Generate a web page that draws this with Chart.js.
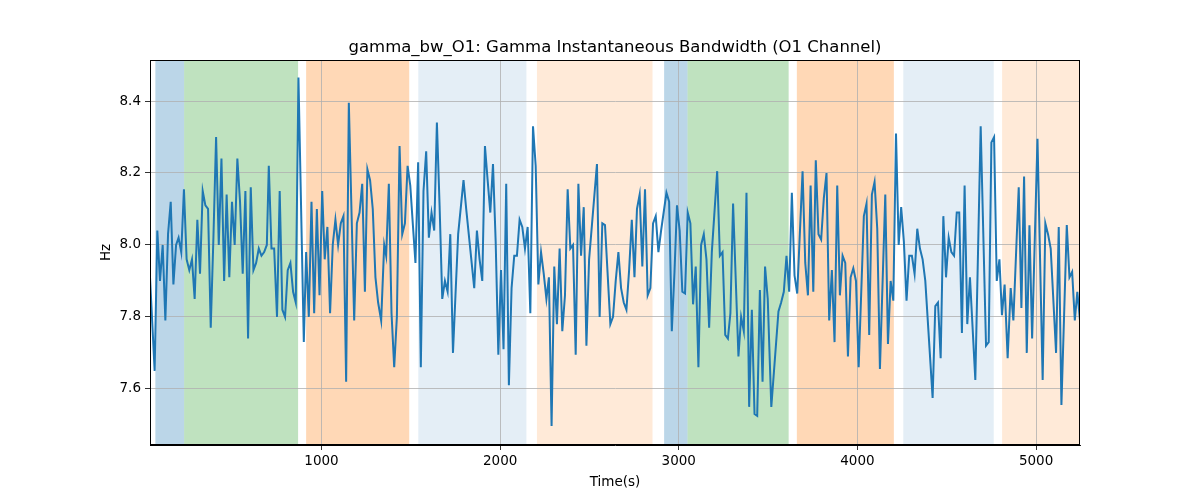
<!DOCTYPE html>
<html>
<head>
<meta charset="utf-8">
<script src="https://cdn.jsdelivr.net/npm/chart.js@4"></script>
<style>
  body { margin: 0; background: #fff; }
</style>
</head>
<body>
<canvas id="chart" width="1200" height="500"></canvas>
<script>
const times = [
  40, 66, 81, 96, 111, 126, 141, 156, 171, 186, 200, 215, 230, 245, 260, 275, 290, 305, 320, 335,
  350, 365, 380, 395, 410, 425, 440, 455, 469, 484, 499, 514, 529, 544, 559, 574, 589, 604, 619, 634,
  649, 664, 679, 694, 705, 720, 735, 751, 766, 781, 796, 811, 826, 841, 856, 871, 901, 914, 929, 944,
  959, 974, 989, 1004, 1018, 1033, 1048, 1063, 1078, 1093, 1108, 1123, 1138, 1153, 1183, 1198, 1213, 1228, 1243, 1257,
  1272, 1287, 1302, 1317, 1334, 1351, 1362, 1377, 1392, 1407, 1422, 1437, 1452, 1467, 1482, 1497, 1511, 1526, 1541, 1556,
  1571, 1586, 1601, 1616, 1631, 1646, 1661, 1676, 1691, 1706, 1721, 1736, 1750, 1765, 1795, 1810, 1855, 1870, 1885, 1900,
  1915, 1930, 1945, 1960, 1975, 1990, 2005, 2019, 2034, 2049, 2064, 2079, 2094, 2109, 2124, 2139, 2154, 2169, 2184, 2199,
  2214, 2229, 2244, 2259, 2273, 2288, 2303, 2318, 2333, 2348, 2363, 2378, 2393, 2408, 2423, 2438, 2453, 2468, 2483, 2498,
  2542, 2557, 2572, 2587, 2617, 2632, 2647, 2662, 2677, 2692, 2707, 2722, 2737, 2752, 2766, 2781, 2796, 2811, 2826, 2841,
  2856, 2871, 2886, 2901, 2931, 2946, 2961, 2976, 2990, 3005, 3020, 3035, 3050, 3065, 3080, 3095, 3110, 3125, 3140, 3155,
  3170, 3185, 3215, 3230, 3245, 3260, 3275, 3289, 3304, 3334, 3349, 3364, 3379, 3394, 3409, 3424, 3439, 3454, 3469, 3483,
  3498, 3518, 3558, 3573, 3588, 3603, 3618, 3633, 3648, 3663, 3693, 3708, 3723, 3738, 3753, 3767, 3782, 3797, 3812, 3827,
  3842, 3857, 3872, 3887, 3902, 3917, 3932, 3947, 3962, 3977, 3992, 4007, 4036, 4051, 4066, 4081, 4096, 4111, 4126, 4156,
  4171, 4186, 4201, 4216, 4231, 4245, 4260, 4275, 4290, 4305, 4320, 4335, 4350, 4365, 4380, 4421, 4436, 4451, 4466, 4481,
  4496, 4511, 4526, 4541, 4556, 4570, 4585, 4600, 4615, 4630, 4660, 4690, 4720, 4735, 4750, 4765, 4780, 4795, 4809, 4824,
  4841, 4858, 4873, 4903, 4918, 4933, 4948, 4963, 4978, 5008, 5037, 5052, 5067, 5082, 5112, 5127, 5142, 5172, 5187, 5202,
  5217, 5231, 5246
];
const hz = [
  7.91, 7.65, 8.04, 7.90, 8.00, 7.79, 8.03, 8.12, 7.89, 8.00, 8.02, 7.98, 8.155, 7.96, 7.93, 7.96, 7.85, 8.07, 7.92, 8.15,
  8.11, 8.10, 7.77, 8.02, 8.30, 8.00, 8.24, 7.90, 8.14, 7.91, 8.12, 8.00, 8.24, 8.12, 7.92, 8.15, 7.74, 8.16, 7.93, 7.95,
  7.99, 7.97, 7.98, 8.00, 8.22, 7.99, 7.99, 7.80, 8.15, 7.82, 7.80, 7.93, 7.95, 7.87, 7.84, 8.465, 7.73, 7.98, 7.80, 8.12,
  7.81, 8.10, 7.86, 8.15, 7.96, 8.05, 7.81, 8.00, 8.07, 8.00, 8.06, 8.08, 7.62, 8.395, 7.79, 8.06, 8.09, 8.17, 7.87, 8.21,
  8.18, 8.10, 7.91, 7.84, 7.79, 8.00, 7.97, 8.17, 7.81, 7.66, 7.80, 8.275, 8.03, 8.06, 8.22, 8.165, 8.06, 7.95, 8.23, 7.66,
  8.15, 8.26, 8.02, 8.09, 8.04, 8.34, 8.11, 7.85, 7.90, 7.87, 8.03, 7.70, 7.86, 8.03, 8.18, 8.10, 7.88, 8.04, 7.96, 7.90,
  8.275, 8.18, 8.09, 8.225, 8.01, 7.695, 7.93, 7.71, 8.17, 7.61, 7.88, 7.97, 7.97, 8.07, 8.05, 7.99, 8.05, 7.81, 8.33, 8.22,
  7.89, 7.98, 7.92, 7.85, 7.91, 7.497, 7.94, 7.78, 7.99, 7.76, 7.86, 8.155, 7.99, 8.00, 7.695, 8.17, 7.97, 8.105, 7.72, 7.96,
  8.225, 7.80, 8.06, 8.055, 7.78, 7.80, 7.90, 7.98, 7.88, 7.84, 7.82, 7.93, 8.07, 7.91, 8.10, 8.14, 7.94, 8.155, 7.86, 7.88,
  8.06, 8.08, 7.98, 8.04, 8.145, 8.12, 7.76, 7.925, 8.11, 8.04, 7.87, 7.865, 8.09, 8.06, 7.835, 7.94, 7.66, 8.00, 8.03, 7.96,
  7.77, 7.98, 8.205, 7.97, 7.98, 7.75, 7.74, 7.81, 8.115, 7.69, 7.80, 7.76, 8.145, 7.55, 7.82, 7.53, 7.525, 7.875, 7.62, 7.94,
  7.85, 7.55, 7.815, 7.84, 7.87, 7.97, 7.87, 8.145, 7.915, 7.865, 8.205, 7.95, 7.86, 8.165, 7.87, 8.235, 8.03, 8.015, 8.13, 8.20,
  7.79, 7.93, 7.73, 8.165, 7.86, 7.97, 7.95, 7.69, 7.91, 7.935, 7.90, 7.66, 8.08, 8.115, 7.75, 8.14, 8.175, 8.045, 7.655, 8.14,
  7.725, 7.90, 7.845, 8.31, 8.00, 8.105, 8.01, 7.845, 7.97, 7.97, 7.92, 8.045, 7.99, 7.96, 7.90, 7.575, 7.83, 7.84, 7.685, 8.08,
  7.91, 8.02, 7.98, 7.97, 8.09, 8.09, 7.755, 8.165, 7.78, 7.91, 7.625, 8.33, 7.72, 7.73, 8.285, 8.30, 7.90, 7.96, 7.805, 7.89,
  7.685, 7.88, 7.79, 8.16, 7.825, 8.19, 7.70, 8.055, 7.74, 8.295, 7.625, 8.06, 8.03, 7.99, 7.70, 8.05, 7.555, 8.055, 7.91, 7.925,
  7.79, 7.87, 7.79
];

// shaded stages
const spanStarts = [70, 231, 914, 1542, 2206, 2918, 3049, 3661, 4257, 4810];
const spanEnds = [231, 869, 1491, 2147, 2853, 3049, 3615, 4204, 4763, 5246];
const spanKinds = ["blue", "green", "orange", "paleBlue", "paleOrange", "blue", "green", "orange", "paleBlue", "paleOrange"];

const xTicks = [1000, 2000, 3000, 4000, 5000];
const yTicks = [7.6, 7.8, 8.0, 8.2, 8.4];

const spanColors = {
  blue: "rgba(31,119,180,0.3)",
  green: "rgba(44,160,44,0.3)",
  orange: "rgba(255,127,14,0.3)",
  paleBlue: "rgba(31,119,180,0.12)",
  paleOrange: "rgba(255,127,14,0.16)",
};

const FONT = "'DejaVu Sans', sans-serif";

const spansPlugin = {
  id: "spans",
  beforeDraw(chart) {
    const { ctx, chartArea, scales } = chart;
    ctx.save();
    for (let i = 0; i < spanStarts.length; i++) {
      const x0 = scales.x.getPixelForValue(spanStarts[i]);
      const x1 = scales.x.getPixelForValue(spanEnds[i]);
      ctx.fillStyle = spanColors[spanKinds[i]];
      ctx.fillRect(x0, chartArea.top, x1 - x0, chartArea.bottom - chartArea.top);
    }
    ctx.restore();
  },
  afterDraw(chart) {
    const { ctx, chartArea } = chart;
    ctx.save();
    ctx.strokeStyle = "#000";
    ctx.lineWidth = 1;
    ctx.strokeRect(chartArea.left + 0.5, chartArea.top + 0.5,
      chartArea.right - chartArea.left - 1, chartArea.bottom - chartArea.top - 1);
    ctx.fillStyle = "#000";
    ctx.textAlign = "center";
    ctx.textBaseline = "alphabetic";
    ctx.font = "16.5px " + FONT;
    ctx.fillText("gamma_bw_O1: Gamma Instantaneous Bandwidth (O1 Channel)",
      (chartArea.left + chartArea.right) / 2, 52);
    ctx.font = "13.5px " + FONT;
    ctx.fillText("Time(s)", (chartArea.left + chartArea.right) / 2, 486);
    ctx.translate(110, (chartArea.top + chartArea.bottom) / 2);
    ctx.rotate(-Math.PI / 2);
    ctx.fillText("Hz", 0, 0);
    ctx.restore();
  },
};

new Chart(document.getElementById("chart"), {
  type: "line",
  data: {
    datasets: [
      {
        data: times.map((t, i) => ({ x: t, y: hz[i] })),
        borderColor: "#1f77b4",
        borderWidth: 2,
        pointRadius: 0,
        tension: 0,
        fill: false,
      },
    ],
  },
  options: {
    responsive: false,
    animation: false,
    layout: { padding: { top: 60, right: 120, left: 0, bottom: 0 } },
    plugins: { legend: { display: false }, tooltip: { enabled: false } },
    scales: {
      x: {
        type: "linear",
        min: 40,
        max: 5246,
        afterFit: (s) => { s.height = 55; },
        afterBuildTicks: (s) => { s.ticks = xTicks.map((v) => ({ value: v })); },
        grid: { color: "#b0b0b0", lineWidth: 0.8, tickColor: "#000", tickLength: 5 },
        border: { display: true, color: "#000", width: 1 },
        ticks: {
          color: "#000",
          font: { family: FONT, size: 13.5 },
          padding: 3,
          maxRotation: 0,
          callback: (v) => String(v),
        },
      },
      y: {
        min: 7.444,
        max: 8.514,
        afterFit: (s) => { s.width = 150; },
        afterBuildTicks: (s) => { s.ticks = yTicks.map((v) => ({ value: v })); },
        grid: { color: "#b0b0b0", lineWidth: 0.8, tickColor: "#000", tickLength: 5 },
        border: { display: true, color: "#000", width: 1 },
        ticks: {
          color: "#000",
          font: { family: FONT, size: 13.5 },
          padding: 4,
          callback: (v) => v.toFixed(1),
        },
      },
    },
  },
  plugins: [spansPlugin],
});
</script>
</body>
</html>
